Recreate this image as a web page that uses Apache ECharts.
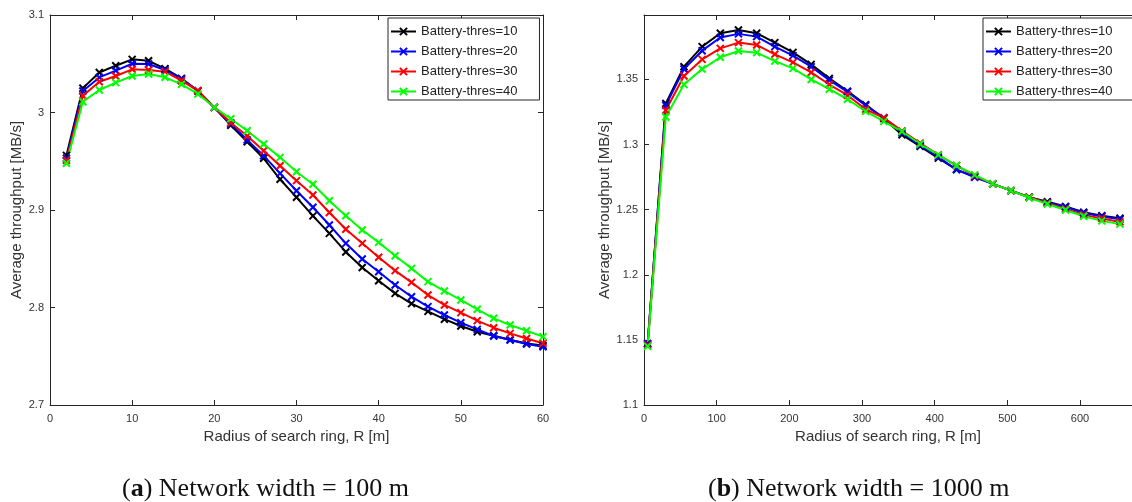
<!DOCTYPE html>
<html>
<head>
<meta charset="utf-8">
<script src="https://cdn.jsdelivr.net/npm/echarts@6/dist/echarts.min.js"></script>
<style>
html,body{margin:0;padding:0;background:#fff;}
#c{width:1132px;height:502px;}
</style>
</head>
<body>
<div id="c"></div>
<script>
// ---------- data ----------
const seriesNames = ['Battery-thres=10', 'Battery-thres=20', 'Battery-thres=30', 'Battery-thres=40'];
const seriesColors = ['#000000', '#0000ff', '#ff0000', '#00ff00'];

// (a) Network width = 100 m
const radiusA = [2, 4, 6, 8, 10, 12, 14, 16, 18, 20, 22, 24, 26, 28, 30, 32, 34, 36, 38, 40, 42, 44, 46, 48, 50, 52, 54, 56, 58, 60];
const thres10A = [2.956, 3.025, 3.041, 3.048, 3.0545, 3.053, 3.045, 3.035, 3.022, 3.005, 2.987, 2.970, 2.953, 2.9315, 2.913, 2.894, 2.876, 2.857, 2.841, 2.8275, 2.8145, 2.804, 2.796, 2.788, 2.781, 2.7752, 2.771, 2.767, 2.763, 2.761];
const thres20A = [2.953, 3.022, 3.036, 3.043, 3.050, 3.0497, 3.0436, 3.0344, 3.0224, 3.0053, 2.9885, 2.9718, 2.9557, 2.9376, 2.9198, 2.9028, 2.8846, 2.8658, 2.8497, 2.8367, 2.8231, 2.8111, 2.8009, 2.7923, 2.7844, 2.7776, 2.7708, 2.7667, 2.7626, 2.7598];
const thres30A = [2.951, 3.0172, 3.0316, 3.0374, 3.0443, 3.0436, 3.0419, 3.0326, 3.0224, 3.0053, 2.9895, 2.9759, 2.9608, 2.9454, 2.9301, 2.9154, 2.8974, 2.8802, 2.8658, 2.8515, 2.8378, 2.8258, 2.8128, 2.8026, 2.7947, 2.7865, 2.7793, 2.7735, 2.7682, 2.7633];
const thres40A = [2.948, 3.0111, 3.0231, 3.0306, 3.0374, 3.0395, 3.0361, 3.0289, 3.019, 3.0053, 2.9936, 2.9813, 2.9677, 2.954, 2.9393, 2.9264, 2.9095, 2.8941, 2.8795, 2.8668, 2.8531, 2.8401, 2.8265, 2.8169, 2.8077, 2.7982, 2.7889, 2.7821, 2.7762, 2.7701];

// (b) Network width = 1000 m
const radiusB = [5, 30, 55, 80, 105, 130, 155, 180, 205, 230, 255, 280, 305, 330, 355, 380, 405, 430, 455, 480, 505, 530, 555, 580, 605, 630, 655];
const thres10B = [1.147, 1.3315, 1.3598, 1.3752, 1.3855, 1.388, 1.3855, 1.3783, 1.3708, 1.3616, 1.3508, 1.341, 1.3307, 1.3199, 1.3076, 1.2986, 1.2896, 1.2808, 1.2754, 1.2698, 1.2646, 1.2595, 1.2561, 1.2525, 1.248, 1.2453, 1.2435];
const thres20B = [1.147, 1.3302, 1.358, 1.3721, 1.3822, 1.385, 1.3829, 1.3752, 1.3683, 1.3598, 1.3495, 1.3405, 1.3300, 1.3207, 1.3090, 1.2995, 1.2904, 1.2808, 1.2748, 1.2698, 1.2646, 1.2595, 1.2556, 1.2520, 1.2475, 1.2448, 1.2427];
const thres30B = [1.146, 1.3263, 1.3526, 1.3654, 1.3739, 1.3783, 1.3765, 1.3693, 1.3631, 1.3554, 1.3461, 1.3379, 1.3271, 1.3205, 1.3105, 1.3011, 1.2921, 1.2839, 1.2762, 1.2698, 1.2646, 1.2595, 1.2550, 1.2505, 1.2460, 1.2433, 1.2406];
const thres40B = [1.145, 1.3212, 1.3461, 1.358, 1.367, 1.3718, 1.3706, 1.3641, 1.3585, 1.350, 1.3425, 1.3348, 1.3255, 1.3178, 1.3100, 1.3004, 1.2921, 1.2839, 1.2767, 1.2698, 1.2646, 1.2592, 1.2543, 1.2498, 1.2450, 1.2414, 1.2389];

const captionA = 'Network width = 100 m';
const captionB = 'Network width = 1000 m';
const xAxisName = 'Radius of search ring, R [m]';
const yAxisName = 'Average throughput [MB/s]';

// ---------- chart ----------
const chart = echarts.init(document.getElementById('c'), null, {renderer: 'canvas'});
const AX = '#262626';
const LBL = '#333333';
const FONT = 'Liberation Sans, Arial, Helvetica, sans-serif';
const crossSymbol = 'path://M0,0L10,10M10,0L0,10';

function pairs(xs, ys) { return xs.map((x, i) => [x, ys[i]]); }

function baseAxis(extra) {
  return Object.assign({
    type: 'value',
    axisLine: {show: true, onZero: false, lineStyle: {color: AX, width: 1}},
    axisTick: {show: true, inside: true, length: 5, lineStyle: {color: AX, width: 1}},
    splitLine: {show: false},
    axisLabel: {color: LBL, fontSize: 11, fontFamily: FONT},
    nameTextStyle: {color: LBL, fontSize: 15, fontFamily: FONT}
  }, extra);
}

function makeSeries(gridIdx, xs, ysList) {
  return ysList.map((ys, i) => ({
    name: seriesNames[i],
    type: 'line',
    xAxisIndex: gridIdx * 2,
    yAxisIndex: gridIdx * 2,
    data: pairs(xs, ys),
    symbol: crossSymbol,
    symbolSize: 7,
    showSymbol: true,
    clip: true,
    lineStyle: {color: seriesColors[i], width: 2},
    itemStyle: {color: seriesColors[i], borderColor: seriesColors[i], borderWidth: 2},
    emphasis: {disabled: true},
    animation: false
  }));
}

function legendAt(left) {
  return {
    data: seriesNames,
    orient: 'vertical',
    left: left, top: 18,
    padding: [7, 22, 2, 2],
    itemWidth: 25, itemHeight: 9, itemGap: 7,
    backgroundColor: '#ffffff',
    borderColor: AX, borderWidth: 1,
    selectedMode: false,
    textStyle: {color: '#222', fontSize: 13, fontFamily: FONT}
  };
}

const option = {
  animation: false,
  backgroundColor: '#ffffff',
  grid: [
    {left: 50, top: 15, width: 493, height: 390, containLabel: false},
    {left: 644, top: 15, width: 488, height: 390, containLabel: false}
  ],
  legend: [legendAt(388), legendAt(983)],
  xAxis: [
    baseAxis({gridIndex: 0, position: 'bottom', min: 0, max: 60, interval: 10,
      name: xAxisName, nameLocation: 'middle', nameGap: 23}),
    baseAxis({gridIndex: 0, position: 'top', min: 0, max: 60, interval: 10, axisLabel: {show: false}}),
    baseAxis({gridIndex: 1, position: 'bottom', min: 0, max: 671.5, interval: 100,
      name: xAxisName, nameLocation: 'middle', nameGap: 23,
      axisLabel: {color: LBL, fontSize: 11, fontFamily: FONT, showMaxLabel: false}}),
    baseAxis({gridIndex: 1, position: 'top', min: 0, max: 671.5, interval: 100, axisLabel: {show: false}})
  ],
  yAxis: [
    baseAxis({gridIndex: 0, position: 'left', min: 2.7, max: 3.1, interval: 0.1,
      name: yAxisName, nameLocation: 'middle', nameGap: 23,
      axisLabel: {color: LBL, fontSize: 11, fontFamily: FONT, margin: 6}}),
    baseAxis({gridIndex: 0, position: 'right', min: 2.7, max: 3.1, interval: 0.1, axisLabel: {show: false}}),
    baseAxis({gridIndex: 1, position: 'left', min: 1.1, max: 1.3995, interval: 0.05,
      name: yAxisName, nameLocation: 'middle', nameGap: 31,
      axisLabel: {color: LBL, fontSize: 11, fontFamily: FONT, margin: 6, showMaxLabel: false}}),
    baseAxis({gridIndex: 1, position: 'right', min: 1.1, max: 1.3995, interval: 0.05,
      axisLine: {show: false}, axisTick: {show: false}, axisLabel: {show: false}})
  ],
  series: [].concat(
    makeSeries(0, radiusA, [thres10A, thres20A, thres30A, thres40A]),
    makeSeries(1, radiusB, [thres10B, thres20B, thres30B, thres40B])
  ),
  graphic: [
    {type: 'text', left: 122, top: 476, silent: true,
      style: {text: '({b|a}) ' + captionA, fill: '#111', font: '26px "Liberation Serif", serif',
        rich: {b: {fontWeight: 'bold', fontSize: 26, fontFamily: 'Liberation Serif'}}}},
    {type: 'text', left: 708, top: 476, silent: true,
      style: {text: '({b|b}) ' + captionB, fill: '#111', font: '26px "Liberation Serif", serif',
        rich: {b: {fontWeight: 'bold', fontSize: 26, fontFamily: 'Liberation Serif'}}}}
  ]
};
chart.setOption(option);
</script>
</body>
</html>
